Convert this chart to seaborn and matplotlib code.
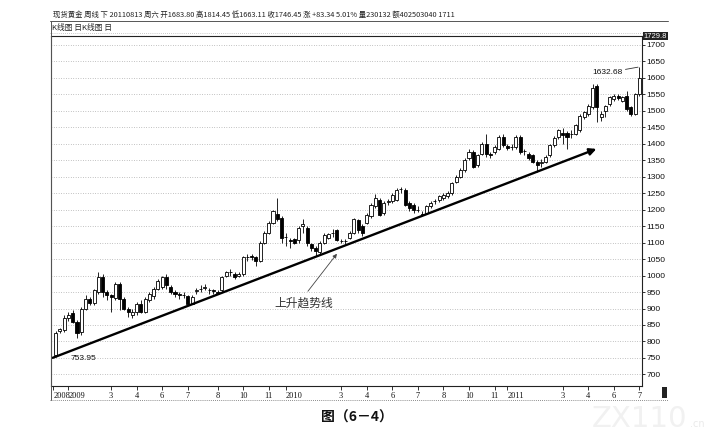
import numpy as np
import matplotlib
matplotlib.use('Agg')
import matplotlib.pyplot as plt
from matplotlib.lines import Line2D
from matplotlib.patches import Rectangle
import seaborn as sns

# weekly OHLC, spot gold, Dec 2008 - Jul 2011
WEEK_OPEN = [
    760, 832, 835, 870, 885, 860, 828, 900, 930, 918,
    950, 995, 950, 940, 932, 975, 930, 900, 880, 888,
    915, 890, 925, 938, 958, 965, 995, 965, 950, 945,
    940, 938, 915, 952, 958, 962, 956, 955, 950, 955,
    1000, 1010, 1005, 1000, 1005, 1055, 1058, 1057, 1045, 1100,
    1130, 1160, 1188, 1175, 1117, 1108, 1110, 1108, 1150, 1145,
    1097, 1085, 1070, 1098, 1115, 1128, 1138, 1105, 1105, 1115,
    1130, 1168, 1150, 1160, 1180, 1210, 1230, 1190, 1222, 1225,
    1230, 1262, 1260, 1220, 1215, 1200, 1188, 1190, 1210, 1225,
    1228, 1235, 1240, 1250, 1285, 1300, 1320, 1355, 1375, 1335,
    1370, 1400, 1370, 1375, 1385, 1420, 1392, 1390, 1390, 1420,
    1378, 1370, 1365, 1345, 1340, 1345, 1365, 1395, 1420, 1432,
    1432, 1428, 1430, 1440, 1480, 1490, 1510, 1575, 1480, 1500,
    1520, 1535, 1545, 1530, 1545, 1510, 1490, 1550,
]
WEEK_HIGH = [
    832, 842, 880, 890, 895, 865, 905, 940, 935, 960,
    1010, 1005, 955, 945, 980, 980, 935, 905, 900, 920,
    925, 935, 950, 965, 990, 1000, 1005, 970, 955, 950,
    950, 940, 940, 962, 970, 975, 962, 960, 955, 1000,
    1015, 1020, 1010, 1012, 1060, 1065, 1066, 1060, 1105, 1135,
    1165, 1200, 1235, 1180, 1130, 1115, 1115, 1150, 1170, 1150,
    1100, 1090, 1105, 1128, 1130, 1140, 1142, 1112, 1110, 1135,
    1175, 1172, 1155, 1190, 1220, 1248, 1235, 1225, 1232, 1250,
    1265, 1268, 1265, 1225, 1220, 1210, 1195, 1215, 1225, 1232,
    1245, 1250, 1256, 1285, 1305, 1325, 1355, 1385, 1380, 1370,
    1405, 1430, 1375, 1395, 1425, 1430, 1400, 1398, 1425, 1425,
    1385, 1375, 1368, 1350, 1352, 1365, 1400, 1422, 1445, 1448,
    1437, 1440, 1460, 1490, 1500, 1520, 1580, 1580, 1500, 1518,
    1545, 1550, 1552, 1545, 1560, 1515, 1555, 1632.68,
]
WEEK_LOW = [
    753.95, 826, 830, 862, 855, 810, 820, 895, 910, 912,
    945, 935, 925, 890, 925, 895, 895, 875, 870, 880,
    885, 885, 920, 930, 955, 960, 960, 945, 935, 930,
    932, 912, 915, 945, 950, 955, 945, 945, 945, 950,
    995, 1000, 990, 995, 1000, 1045, 1048, 1030, 1040, 1095,
    1125, 1155, 1165, 1100, 1090, 1085, 1095, 1100, 1130, 1090,
    1075, 1058, 1065, 1095, 1110, 1118, 1105, 1098, 1095, 1110,
    1125, 1130, 1120, 1155, 1175, 1205, 1180, 1185, 1215, 1220,
    1225, 1250, 1210, 1195, 1190, 1192, 1183, 1188, 1205, 1218,
    1222, 1230, 1235, 1245, 1280, 1295, 1315, 1350, 1325, 1330,
    1365, 1360, 1355, 1370, 1380, 1390, 1380, 1382, 1385, 1370,
    1365, 1350, 1340, 1315, 1330, 1340, 1360, 1390, 1415, 1400,
    1385, 1418, 1425, 1435, 1475, 1485, 1505, 1465, 1470, 1480,
    1515, 1530, 1532, 1525, 1500, 1485, 1488, 1545,
]
WEEK_CLOSE = [
    826, 838, 870, 880, 860, 825, 900, 930, 918, 955,
    995, 950, 940, 935, 975, 930, 900, 890, 890, 915,
    890, 930, 945, 960, 982, 995, 970, 950, 945, 940,
    942, 915, 935, 955, 960, 965, 955, 952, 948, 995,
    1010, 1010, 995, 1005, 1055, 1057, 1056, 1045, 1100, 1130,
    1160, 1195, 1170, 1115, 1118, 1105, 1100, 1145, 1155, 1100,
    1083, 1075, 1100, 1122, 1125, 1130, 1108, 1105, 1104, 1130,
    1170, 1138, 1130, 1185, 1215, 1235, 1185, 1220, 1225, 1245,
    1260, 1262, 1215, 1205, 1200, 1200, 1185, 1210, 1220, 1225,
    1240, 1245, 1250, 1280, 1300, 1320, 1350, 1375, 1330, 1365,
    1400, 1370, 1365, 1390, 1420, 1395, 1388, 1391, 1420, 1375,
    1378, 1355, 1345, 1335, 1345, 1360, 1395, 1418, 1440, 1425,
    1420, 1430, 1455, 1485, 1495, 1515, 1570, 1510, 1490, 1515,
    1540, 1545, 1538, 1540, 1505, 1490, 1550, 1600,
]

TICK_WEEKS = [-0.6, 3, 13, 19, 25, 31, 38, 44, 50, 54, 67, 73, 79, 85,
              91, 97, 103, 106, 119, 125, 131, 137]
TICK_LABELS = ['2008', '2009', '3', '4', '6', '7', '8', '10', '11', '2010',
               '3', '4', '6', '7', '8', '10', '11', '2011', '3', '4', '6', '7']
PRICE_TICKS = list(range(700, 1701, 50))

HEADER = ('现货黄金 周线 下 20110813 周六 开1683.80 高1814.45 低1663.11 '
          '收1746.45 涨 +83.34 5.01% 量230132 额402503040 1711')
SUBHEADER = 'K线图 日K线图 日'
CAPTION = '图（6－4）'
TREND_LABEL = '上升趋势线'

# trend line is anchored on the two swing lows it touches
TREND_ANCHORS = (0, 113)
TREND_START, TREND_END = -0.7, 126.9

W, H = 716, 440


def fx(px):
    return px / W


def fy(py):
    return 1 - py / H


def draw_candles(ax):
    o = np.array(WEEK_OPEN, dtype=float)
    h = np.array(WEEK_HIGH, dtype=float)
    l = np.array(WEEK_LOW, dtype=float)
    c = np.array(WEEK_CLOSE, dtype=float)
    x = np.arange(len(o))
    up = c >= o
    ax.vlines(x, l, h, color='black', lw=0.6, zorder=2)
    ax.bar(x, np.abs(c - o), bottom=np.minimum(o, c), width=0.72,
           color=np.where(up, 'white', 'black'), edgecolor='black',
           linewidth=0.6, zorder=3)
    return l


def draw_trend(ax, lows):
    k0, k1 = TREND_ANCHORS
    slope = (lows[k1] - lows[k0]) / (k1 - k0)
    y0 = lows[k0] + slope * (TREND_START - k0)
    y1 = lows[k0] + slope * (TREND_END - k0)
    ax.annotate('', xy=(TREND_END, y1), xytext=(TREND_START, y0),
                arrowprops=dict(arrowstyle='-|>', color='black', lw=1.7,
                                mutation_scale=10, shrinkA=0, shrinkB=0),
                zorder=4)
    ax.annotate(TREND_LABEL, xy=(66, 1066), xytext=(58.2, 916),
                ha='center', va='center', fontsize=8.5, color='#333333',
                arrowprops=dict(arrowstyle='-|>', color='#444444', lw=0.6,
                                mutation_scale=6, relpos=(0.5, 1.0),
                                shrinkA=2, shrinkB=0))


def main():
    sns.set_theme(style='white')
    plt.rcParams['font.family'] = ['Noto Sans CJK SC', 'DejaVu Sans']

    fig = plt.figure(figsize=(W / 100, H / 100), dpi=100)
    fig.patch.set_facecolor('white')
    ax = fig.add_axes([fx(51), fy(386), fx(642) - fx(51), fy(36) - fy(386)])
    ax.set_facecolor('white')

    lows = draw_candles(ax)
    draw_trend(ax, lows)

    ax.set_xlim(-1.1, 137.6)
    ax.set_ylim(665, 1726.4)

    ax.set_yticks(PRICE_TICKS)
    ax.yaxis.tick_right()
    ax.yaxis.grid(True, linestyle=(0, (1, 2.5)), color='#8a8a8a', lw=0.5)
    ax.xaxis.grid(False)
    ax.tick_params(axis='y', direction='out', length=2, width=0.6,
                   labelsize=6, pad=1, colors='#111111', right=True)
    for t in ax.get_yticklabels():
        t.set_family(['Liberation Sans', 'DejaVu Sans'])

    ax.set_xticks(TICK_WEEKS)
    ax.set_xticklabels(TICK_LABELS)
    ax.tick_params(axis='x', direction='out', length=3, width=0.6,
                   labelsize=6, pad=1, colors='#111111', bottom=True)
    for t in ax.get_xticklabels():
        t.set_family(['Liberation Serif', 'DejaVu Serif'])
        if len(t.get_text()) == 4:
            t.set_ha('left')

    for side in ['left', 'right', 'top', 'bottom']:
        ax.spines[side].set_visible(True)
        ax.spines[side].set_color('#222222')
        ax.spines[side].set_linewidth(0.8)

    # price labels on the chart
    ax.text(3.5, 749, '753.95', fontsize=6, va='center', ha='left',
            color='#111111', family=['Liberation Sans', 'DejaVu Sans'])
    ax.annotate('1632.68', xy=(137, WEEK_HIGH[-1]), xytext=(129.4, 1617),
                fontsize=6, ha='center', va='center', color='#111111',
                family=['Liberation Sans', 'DejaVu Sans'],
                arrowprops=dict(arrowstyle='-', lw=0.6, color='#333333',
                                relpos=(1.0, 0.8), shrinkA=0, shrinkB=1))
    ax.text(1.003, 1.0, '1729.8', transform=ax.transAxes, ha='left',
            va='center', fontsize=5.5, color='white',
            family=['Liberation Sans', 'DejaVu Sans'],
            bbox=dict(facecolor='#222222', edgecolor='none', pad=0.6))

    # header rows and panel frame
    fig.text(fx(53), fy(15), HEADER, fontsize=5.3, va='center', ha='left',
             color='#222222')
    fig.text(fx(52), fy(28), SUBHEADER, fontsize=5.6, va='center', ha='left',
             color='#222222')
    fig.add_artist(Line2D([fx(50), fx(668)], [fy(21), fy(21)],
                          color='#555555', lw=0.7))
    fig.add_artist(Line2D([fx(50), fx(642)], [fy(33), fy(33)],
                          color='#999999', lw=0.5, ls=(0, (1, 2))))
    fig.add_artist(Line2D([fx(51), fx(51)], [fy(21), fy(400)],
                          color='#555555', lw=0.7))
    fig.add_artist(Line2D([fx(50), fx(668)], [fy(400), fy(400)],
                          color='#666666', lw=0.6, ls=(0, (1, 1.5))))
    fig.add_artist(Rectangle((fx(662), fy(398)), fx(5), fy(387) - fy(398),
                             facecolor='#222222', edgecolor='none'))

    fig.text(fx(357), fy(418), CAPTION, fontsize=10, fontweight='bold',
             ha='center', va='center', color='#111111')
    fig.text(fx(592), fy(419), 'ZX110', fontsize=21, ha='left', va='center',
             color='#f1f1f1', family=['DejaVu Sans'])
    fig.text(fx(690), fy(424), '.cn', fontsize=7, ha='left', va='center',
             color='#eaeaea', family=['DejaVu Sans'])

    fig.savefig('out.png', dpi=100, facecolor='white')
    plt.close(fig)


if __name__ == '__main__':
    main()
